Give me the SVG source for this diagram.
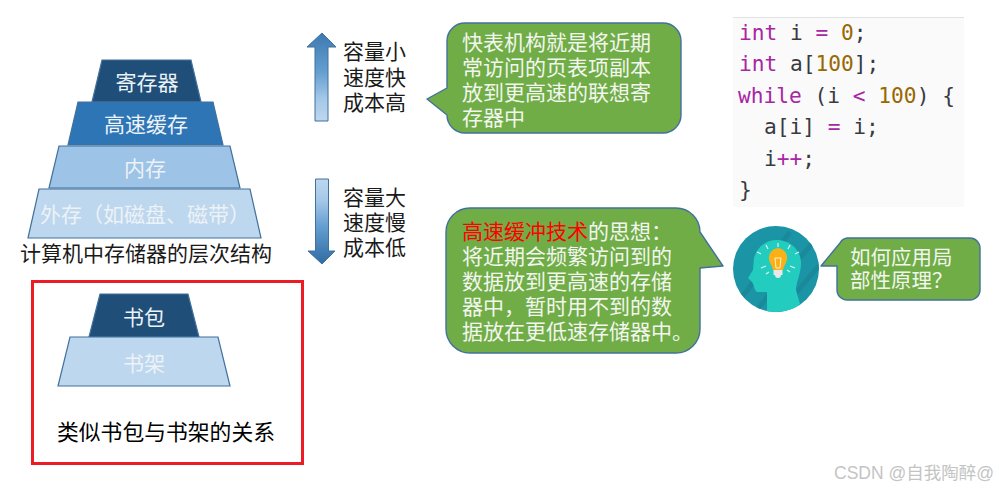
<svg xmlns="http://www.w3.org/2000/svg" width="999" height="491" viewBox="0 0 999 491">
<style>
text{font-family:"Noto Sans CJK SC","Liberation Sans",sans-serif;font-size:21px}
.t{stroke:#41719c;stroke-width:1.2}
.lbl{fill:#edf2f7;text-anchor:middle}
.blk{fill:#1a1a1a}
.bub{fill:#70ad47;stroke:#41719c;stroke-width:1.4;stroke-linejoin:round}
.btx{fill:#f2f6ee}
.code text{font-family:"DejaVu Sans Mono",monospace;font-size:21.2px;fill:#383a42}
.k{fill:#a626a4}
.n{fill:#986801}
</style>
<defs>
<linearGradient id="gu" x1="0" y1="0" x2="0" y2="1"><stop offset="0" stop-color="#3d7ab0"/><stop offset="0.45" stop-color="#669fd1"/><stop offset="0.75" stop-color="#a5c8e8"/><stop offset="1" stop-color="#bdd7ee"/></linearGradient>
<linearGradient id="gd" x1="0" y1="1" x2="0" y2="0"><stop offset="0" stop-color="#2f6ca3"/><stop offset="0.45" stop-color="#669fd1"/><stop offset="0.75" stop-color="#a5c8e8"/><stop offset="1" stop-color="#bdd7ee"/></linearGradient>
<clipPath id="cc"><circle cx="776" cy="269" r="43"/></clipPath>
</defs>
<rect width="999" height="491" fill="#fff"/>

<g id="connectors">
<path d="M322 33L336 47H328V121H315V47H307Z" fill="url(#gu)" stroke="#41719c" stroke-width="1"/>
<path d="M315.500 179H328.500V251H335L322 264L308 251H315.500Z" fill="url(#gd)" stroke="#41719c" stroke-width="1"/>
</g>

<g id="node-register"><polygon class="t" points="102,60 191,60 201,102 92,102" fill="#1f4e79"/><text class="lbl" x="147" y="90">寄存器</text></g>
<g id="node-cache"><polygon class="t" points="78,102 213,102 223,145 68,145" fill="#2e75b6"/><text class="lbl" x="146" y="132">高速缓存</text></g>
<g id="node-memory"><polygon class="t" points="59,146 230,146 240,188 49,188" fill="#9dc3e6"/><text class="lbl" x="145" y="176">内存</text></g>
<g id="node-external"><polygon class="t" points="39,189 250,189 261,238 28,238" fill="#bdd7ee"/><text class="lbl" x="145" y="222">外存（如磁盘、磁带）</text></g>
<g id="caption"><text class="blk" x="20" y="261">计算机中存储器的层次结构</text></g>

<g id="label-up"><text class="blk" x="343" y="59">容量小<tspan x="343" y="85">速度快</tspan><tspan x="343" y="110">成本高</tspan></text></g>
<g id="label-down"><text class="blk" x="343" y="205">容量大<tspan x="343" y="230">速度慢</tspan><tspan x="343" y="255">成本低</tspan></text></g>

<g id="box-analogy">
<rect x="32.500" y="281.500" width="270" height="182" fill="none" stroke="#ed1c24" stroke-width="3"/>
<g id="node-bag"><polygon class="t" points="100,294 188,294 199,337 89,337" fill="#1f4e79"/><text class="lbl" x="144" y="325">书包</text></g>
<g id="node-shelf"><polygon class="t" points="70,337 218,337 230,386 58,386" fill="#bdd7ee"/><text class="lbl" x="144" y="371">书架</text></g>
<text x="57" y="440" fill="#000" style="font-size:21.800px">类似书包与书架的关系</text>
</g>

<g id="callout-tlb">
<path class="bub" d="M465 23H663A18 18 0 0 1 681 41V115A18 18 0 0 1 663 133H465A18 18 0 0 1 447 115L427 99L447 88V41A18 18 0 0 1 465 23Z"/>
<text class="btx" x="462" y="50">快表机构就是将近期<tspan x="462" y="75">常访问的页表项副本</tspan><tspan x="462" y="100">放到更高速的联想寄</tspan><tspan x="462" y="125">存器中</tspan></text>
</g>

<g id="callout-cache">
<path class="bub" d="M470 208H676A24 24 0 0 1 700 232L723 266L700 268V329A24 24 0 0 1 676 353H470A24 24 0 0 1 446 329V232A24 24 0 0 1 470 208Z"/>
<text class="btx" x="462" y="239"><tspan fill="#ff0000">高速缓冲技术</tspan>的思想：<tspan x="462" y="264">将近期会频繁访问到的</tspan><tspan x="462" y="289">数据放到更高速的存储</tspan><tspan x="462" y="314">器中，暂时用不到的数</tspan><tspan x="462" y="339">据放在更低速存储器中。</tspan></text>
</g>

<g id="code" class="code">
<rect x="733" y="17" width="231" height="190" fill="#fafafa"/>
<rect x="733" y="17" width="231" height="1" fill="#e2e2e2"/>
<text x="739" y="40"><tspan class="k">int</tspan> i <tspan class="k">=</tspan> <tspan class="n">0</tspan>;</text>
<text x="739" y="71"><tspan class="k">int</tspan> a[<tspan class="n">100</tspan>];</text>
<text x="738" y="103"><tspan class="k">while</tspan> (i <tspan class="k">&lt;</tspan> <tspan class="n">100</tspan>) {</text>
<text x="764" y="134">a[i] <tspan class="k">=</tspan> i;</text>
<text x="764" y="166">i<tspan class="k">++</tspan>;</text>
<text x="739" y="197">}</text>
</g>

<g id="thinker">
<circle cx="776" cy="269" r="43" fill="#1b95a5"/>
<g clip-path="url(#cc)">
<path d="M740 300L790 232M755 312L815 240M775 318L822 262" stroke="#1a8a9a" stroke-width="5" fill="none"/>
<path d="M777 240C790 240 801 250 801 263C801 274 796 282 796 290L800 304L790 314H767V292H757C754 290 754 284 752 282L748 278L753 270L754 258C757 247 766 240 777 240Z" fill="#22cdbf"/>
</g>
<g stroke="#d8f5ee" stroke-width="1.200" fill="none">
<path d="M778 243V247M766 245L768 249M790 245L788 249M757 252L761 254M799 252L795 254M761 268L766 266M795 268L790 266M766 274L769 272"/>
<path d="M790 272L787 270"/>
</g>
<path d="M778 248A9.500 9.500 0 0 1 787 258C787 263 784 265 783 270H773C772 265 769 263 769 258A9.500 9.500 0 0 1 778 248Z" fill="#fbb017"/>
<path d="M775 258H781L780 268H776Z" fill="none" stroke="#fff3c8" stroke-width="1"/>
<rect x="773.500" y="270" width="9" height="5" fill="#e8e8e8"/>
<circle cx="778" cy="275" r="3" fill="#e8e8e8"/>
</g>

<g id="callout-question">
<path class="bub" d="M847 238H970A10 10 0 0 1 980 248V290A10 10 0 0 1 970 300H847A10 10 0 0 1 837 290V266L821 266L840 243A10 10 0 0 1 847 238Z"/>
<text class="btx" x="850" y="265" style="font-size:20.500px">如何应用局<tspan x="850" y="288">部性原理？</tspan></text>
</g>

<g id="watermark"><text x="834" y="479" fill="#c4c4c4" style="font-size:17.500px;font-family:'Liberation Sans','Noto Sans CJK SC',sans-serif">CSDN @自我陶醉@</text></g>
</svg>
